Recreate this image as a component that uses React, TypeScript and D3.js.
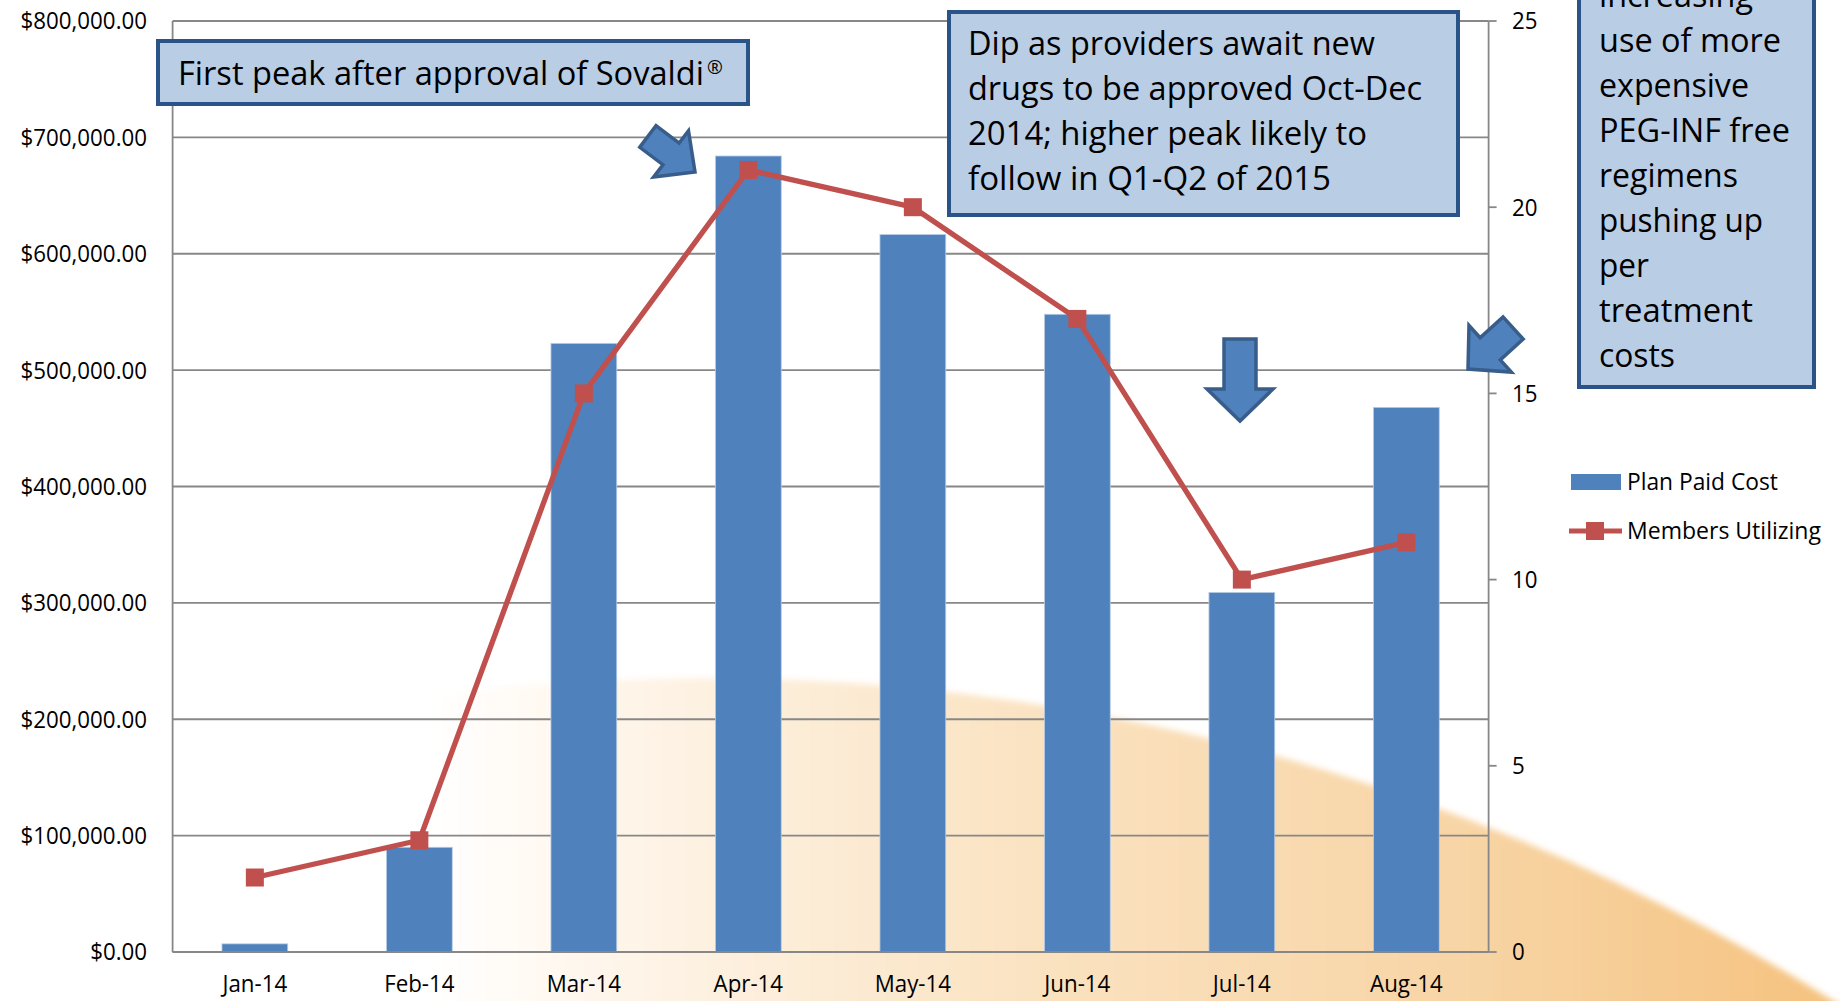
import React, { useEffect } from "react";
import * as d3 from "d3";

const months = ["Jan-14", "Feb-14", "Mar-14", "Apr-14", "May-14", "Jun-14", "Jul-14", "Aug-14"];
const planPaidCost = [7000, 90000, 523000, 684000, 616500, 548000, 309000, 468000];
const membersUtilizing = [2, 3, 15, 21, 20, 17, 10, 11];
const costTicks = [0, 100000, 200000, 300000, 400000, 500000, 600000, 700000, 800000];
const memberTicks = [0, 5, 10, 15, 20, 25];
const seriesNames = ["Plan Paid Cost", "Members Utilizing"];

const box1Lines = ["First peak after approval of Sovaldi"];
const box2Lines = ["Dip as providers await new", "drugs to be approved Oct-Dec", "2014; higher peak likely to", "follow in Q1-Q2 of 2015"];
const box2Widths = [407, 454, 399, 363];
const box3Lines = ["increasing", "use of more", "expensive", "PEG-INF free", "regimens", "pushing up", "per", "treatment", "costs"];
const box3Widths = [154, 182, 150, 191, 139, 164, 50, 154, 76];

const W = 1841, H = 1001;
const left = 172.6, right = 1488.6, top = 21, bottom = 952;
const BLUE = "#4F81BD", RED = "#C0504D", GRID = "#878787";
const FONT = "'Open Sans', 'Noto Sans', sans-serif";
const SX = 0.93;

function blockArrow(tipX: number, tipY: number, angleDeg: number, L: number, sw: number, hw: number, hl: number) {
  const pts: [number, number][] = [
    [0, -sw / 2], [L - hl, -sw / 2], [L - hl, -hw / 2], [L, 0], [L - hl, hw / 2], [L - hl, sw / 2], [0, sw / 2],
  ];
  const a = (angleDeg * Math.PI) / 180;
  const tx = tipX - L * Math.cos(a), ty = tipY - L * Math.sin(a);
  return (
    <polygon
      points={pts.map((p) => p.join(",")).join(" ")}
      transform={`translate(${tx},${ty}) rotate(${angleDeg})`}
      fill={BLUE}
      stroke="#385D8A"
      strokeWidth={3.5}
      strokeLinejoin="miter"
    />
  );
}

function NarrowText(props: { x: number; y: number; anchor?: string; size?: number; children: React.ReactNode }) {
  const { x, y, anchor = "start", size = 24, children } = props;
  return (
    <text transform={`translate(${x},${y}) scale(${SX},1)`} dy="0.35em" textAnchor={anchor} fontSize={size} fill="#000">
      {children}
    </text>
  );
}

export default function App() {
  useEffect(() => {
    document.body.style.margin = "0";
    document.body.style.overflow = "hidden";
  }, []);

  const x = d3.scaleBand<string>().domain(months).range([left, right]).paddingInner(0.6).paddingOuter(0.3);
  const yL = d3.scaleLinear().domain([0, 800000]).range([bottom, top]);
  const yR = d3.scaleLinear().domain([0, 25]).range([bottom, top]);
  const fmt = d3.format("$,.2f");
  const cx = (m: string) => (x(m) as number) + x.bandwidth() / 2;
  const line = d3
    .line<number>()
    .x((_, i) => cx(months[i]))
    .y((d) => yR(d));

  const mk = 18;

  return (
    <svg width={W} height={H} style={{ position: "absolute", left: 0, top: 0, background: "#fff" }} fontFamily={FONT}>
      <defs>
        <linearGradient id="bg" gradientUnits="userSpaceOnUse" x1={430} y1={0} x2={1800} y2={0}>
          <stop offset="0" stopColor="#FFFFFF" />
          <stop offset="0.15" stopColor="#FEF4E7" />
          <stop offset="0.45" stopColor="#FAE2C0" />
          <stop offset="0.75" stopColor="#F8D5A6" />
          <stop offset="1" stopColor="#F5C483" />
        </linearGradient>
        <filter id="soft" x="-10%" y="-10%" width="120%" height="120%">
          <feGaussianBlur stdDeviation="3" />
        </filter>
      </defs>

      {/* background arc */}
      <circle cx={704} cy={2815} r={2137} fill="url(#bg)" filter="url(#soft)" />

      {/* gridlines */}
      {costTicks.map((t) => (
        <line key={t} x1={left} x2={right} y1={yL(t)} y2={yL(t)} stroke={GRID} strokeWidth={1.8} />
      ))}

      {/* bars */}
      {planPaidCost.map((v, i) => (
        <rect
          key={months[i]}
          x={x(months[i])}
          y={yL(v)}
          width={x.bandwidth()}
          height={bottom - yL(v)}
          fill={BLUE}
          stroke="#B9CDE5"
          strokeWidth={0.8}
        />
      ))}

      {/* axes lines */}
      <line x1={left} x2={left} y1={top} y2={bottom} stroke={GRID} strokeWidth={1.8} />
      <line x1={right} x2={right} y1={top} y2={bottom} stroke={GRID} strokeWidth={1.8} />
      <line x1={left} x2={right} y1={bottom} y2={bottom} stroke={GRID} strokeWidth={2} />

      {/* line series */}
      <path d={line(membersUtilizing) || ""} fill="none" stroke={RED} strokeWidth={5.3} strokeLinejoin="round" />
      {membersUtilizing.map((v, i) => (
        <rect key={"m" + i} x={cx(months[i]) - mk / 2} y={yR(v) - mk / 2} width={mk} height={mk} fill={RED} />
      ))}

      {/* left tick labels */}
      {costTicks.map((t) => (
        <NarrowText key={"l" + t} x={147} y={yL(t)} anchor="end">
          {fmt(t)}
        </NarrowText>
      ))}
      {/* right ticks */}
      {memberTicks.map((t) => (
        <g key={"r" + t}>
          <line x1={right} x2={right + 8} y1={yR(t)} y2={yR(t)} stroke={GRID} strokeWidth={1.8} />
          <NarrowText x={1512} y={yR(t)}>{t}</NarrowText>
        </g>
      ))}
      {/* x labels */}
      {months.map((m) => (
        <NarrowText key={"x" + m} x={cx(m)} y={984} anchor="middle">
          {m}
        </NarrowText>
      ))}

      {/* arrows */}
      {blockArrow(695, 172, 37, 59, 27, 58, 30)}
      {blockArrow(1240, 421, 90, 82, 32, 66, 32)}
      {blockArrow(1468, 369, 137.7, 61, 30, 63, 30)}

      {/* annotation box 1 */}
      <rect x={158} y={41} width={590} height={63} fill="#B9CDE5" stroke="#2A5388" strokeWidth={4} />
      <text x={178} y={74} dy="0.35em" fontSize={32} fill="#000" textLength={526} lengthAdjust="spacingAndGlyphs">
        {box1Lines[0]}
      </text>
      <text x={707} y={74} fontSize={19} fill="#000">®</text>

      {/* annotation box 2 */}
      <rect x={949} y={12} width={509} height={203} fill="#B9CDE5" stroke="#2A5388" strokeWidth={4} />
      {box2Lines.map((s, i) => (
        <text key={"b2" + i} x={968} y={43.5 + i * 45} dy="0.35em" fontSize={32} fill="#000" textLength={box2Widths[i]} lengthAdjust="spacingAndGlyphs">
          {s}
        </text>
      ))}

      {/* annotation box 3 */}
      <rect x={1579} y={-30} width={235} height={417} fill="#B9CDE5" stroke="#2A5388" strokeWidth={4} />
      {box3Lines.map((s, i) => (
        <text key={"b3" + i} x={1599} y={-4 + i * 45} dy="0.35em" fontSize={32} fill="#000" textLength={box3Widths[i]} lengthAdjust="spacingAndGlyphs">
          {s}
        </text>
      ))}

      {/* legend */}
      <rect x={1571} y={474} width={50} height={16} fill={BLUE} />
      <text x={1627} y={482} dy="0.35em" fontSize={23} fill="#000" textLength={151} lengthAdjust="spacingAndGlyphs">{seriesNames[0]}</text>
      <line x1={1569} x2={1622} y1={531} y2={531} stroke={RED} strokeWidth={5} />
      <rect x={1586} y={522} width={18} height={18} fill={RED} />
      <text x={1627} y={531} dy="0.35em" fontSize={23} fill="#000" textLength={194} lengthAdjust="spacingAndGlyphs">{seriesNames[1]}</text>
    </svg>
  );
}
